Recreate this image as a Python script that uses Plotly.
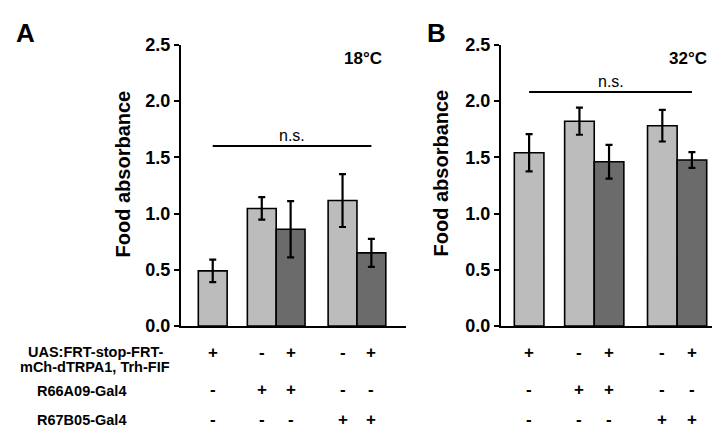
import plotly.graph_objects as go

# ---------------- data ----------------
conditions = ["UAS only", "R66A09 ctrl", "R66A09 > UAS", "R67B05 ctrl", "R67B05 > UAS"]
uas_row = ["+", "-", "+", "-", "+"]
r66_row = ["-", "+", "+", "-", "-"]
r67_row = ["-", "-", "-", "+", "+"]
row_labels = ["UAS:FRT-stop-FRT-", "mCh-dTRPA1, Trh-FIF", "R66A09-Gal4", "R67B05-Gal4"]

means_18 = [0.49, 1.045, 0.86, 1.115, 0.65]
err_18 = [0.10, 0.10, 0.25, 0.235, 0.125]
means_32 = [1.54, 1.82, 1.46, 1.78, 1.475]
err_32 = [0.165, 0.12, 0.15, 0.14, 0.07]

bar_pos = [0, 1.7, 2.7, 4.5, 5.5]
is_exp = [False, False, True, False, True]

ns_level_18 = 1.6
ns_level_32 = 2.08
yticks = [0.0, 0.5, 1.0, 1.5, 2.0, 2.5]

LIGHT = "#bcbcbc"
DARK = "#6b6b6b"
FONT = "Liberation Sans, Arial, Helvetica, sans-serif"
W, H = 720, 432


def py(px):
    return 1 - px / H


def pxx(px):
    return px / W


fig = go.Figure()
colors = [DARK if e else LIGHT for e in is_exp]

for means, errs, xa, ya in [(means_18, err_18, "x", "y"), (means_32, err_32, "x2", "y2")]:
    fig.add_trace(go.Bar(
        x=bar_pos, y=means, width=1.0,
        marker=dict(color=colors, line=dict(color="black", width=1.6)),
        error_y=dict(type="data", array=errs, visible=True, color="black",
                     thickness=2.2, width=3.5),
        xaxis=xa, yaxis=ya, showlegend=False, hoverinfo="skip",
    ))

dom_y = [py(323), py(28)]
axis_common = dict(showgrid=False, zeroline=False, showline=True, linecolor="black",
                   linewidth=2.2)
ytick_cfg = dict(range=[0, 2.5], tickvals=yticks,
                 ticktext=[f"<b>{v:.1f}</b>" for v in yticks], ticks="outside",
                 ticklen=5, tickwidth=2, tickcolor="black", tickfont=dict(size=18))
fig.update_layout(
    width=W, height=H,
    margin=dict(l=0, r=0, t=0, b=0),
    paper_bgcolor="white", plot_bgcolor="white",
    font=dict(family=FONT, color="black"),
    xaxis=dict(domain=[pxx(173), pxx(398)], range=[-1.1, 6.7], showticklabels=False,
               ticks="", anchor="y", **axis_common),
    xaxis2=dict(domain=[pxx(493), pxx(715)], range=[-0.95, 6.55], showticklabels=False,
                ticks="", anchor="y2", **axis_common),
    yaxis=dict(domain=dom_y, anchor="x", **ytick_cfg, **axis_common),
    yaxis2=dict(domain=dom_y, anchor="x2", **ytick_cfg, **axis_common),
)


def ann(**kw):
    kw.setdefault("showarrow", False)
    kw.setdefault("xanchor", "center")
    kw.setdefault("yanchor", "middle")
    kw.setdefault("borderpad", 0)
    fig.add_annotation(**kw)


# n.s. lines and labels
for xa, ya, lvl in [("x", "y", ns_level_18), ("x2", "y2", ns_level_32)]:
    fig.add_shape(type="line", xref=xa, yref=ya, x0=bar_pos[0], x1=bar_pos[-1],
                  y0=lvl, y1=lvl, line=dict(color="black", width=2))
    ann(xref=xa, yref=ya, x=(bar_pos[0] + bar_pos[-1]) / 2, y=lvl,
        text="n.s.", yanchor="bottom", yshift=1, font=dict(size=16))

# temperature labels
ann(xref="x", yref="y", x=5.21, y=2.38, text="<b>18°C</b>", font=dict(size=17))
ann(xref="x2", yref="y2", x=5.37, y=2.38, text="<b>32°C</b>", font=dict(size=17))

# panel letters
ann(xref="paper", yref="paper", x=pxx(17), y=py(16), text="<b>A</b>", font=dict(size=26))
ann(xref="paper", yref="paper", x=pxx(428), y=py(16), text="<b>B</b>", font=dict(size=26))

# y-axis titles
for xc in [115, 433]:
    ann(xref="paper", yref="paper", x=pxx(xc), y=py(163),
        text="<b>Food absorbance</b>", textangle=-90, font=dict(size=20))

# genotype table
row_y = [351, 390, 421]
for xa in ["x", "x2"]:
    for row, ypx in zip([uas_row, r66_row, r67_row], row_y):
        for xp, sym in zip(bar_pos, row):
            ann(xref=xa, yref="paper", x=xp, y=py(ypx), text=f"<b>{sym}</b>",
                font=dict(size=17))

label_pos = [(87, 350), (87, 366), (73, 391), (73, 421)]
for lab, (xc, yc) in zip(row_labels, label_pos):
    ann(xref="paper", yref="paper", x=pxx(xc), y=py(yc), text=f"<b>{lab}</b>",
        font=dict(size=14.5))

fig.write_html("out.html")
